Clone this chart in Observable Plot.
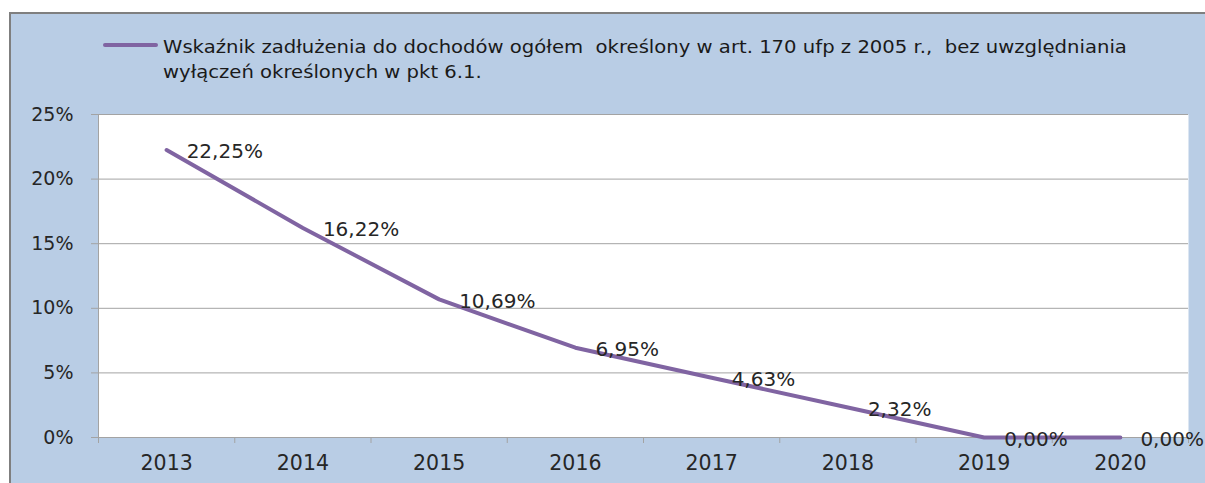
<!DOCTYPE html>
<html>
<head>
<meta charset="utf-8">
<script src="https://cdn.jsdelivr.net/npm/d3@7"></script>
<script src="https://cdn.jsdelivr.net/npm/@observablehq/plot@0.6"></script>
<style>
  html, body { margin: 0; padding: 0; background: #ffffff; }
  #page { position: relative; width: 1205px; height: 483px; overflow: hidden; font-family: "DejaVu Sans", sans-serif; color: #1a1a1a; }
  #bg { position: absolute; left: 9px; top: 12px; right: 0; bottom: 0; background: #b9cde5; border-top: 2px solid #7f7f7f; border-left: 2px solid #7f7f7f; }
  #swatch { position: absolute; left: 103px; top: 43px; width: 55px; height: 4px; background: #8064a2; border-radius: 2px; }
  #legendText { position: absolute; left: 163px; top: 34px; font-size: 18px; line-height: 25px; white-space: pre; transform: scaleX(1.09); transform-origin: left top; }
  #chart { position: absolute; left: 0; top: 97px; }
</style>
</head>
<body>
<div id="page">
  <div id="bg"></div>
  <div id="swatch"></div>
  <div id="legendText"></div>
  <div id="chart"></div>
</div>
<script>
const seriesName = "Wskaźnik zadłużenia do dochodów ogółem  określony w art. 170 ufp z 2005 r.,  bez uwzględniania\nwyłączeń określonych w pkt 6.1.";
const years = [2013, 2014, 2015, 2016, 2017, 2018, 2019, 2020];
const values = [22.25, 16.22, 10.69, 6.95, 4.63, 2.32, 0.00, 0.00];
const yTicks = [0, 5, 10, 15, 20, 25];

document.getElementById("legendText").textContent = seriesName;

const data = years.map((year, i) => ({year, value: values[i]}));
const boundaries = [...years.map(y => y - 0.5), years[years.length - 1] + 0.5];
const fmt = v => v.toFixed(2).replace(".", ",") + "%";
const gray = "#a3a3a3";
const lineColor = "#8064a2";

const chart = Plot.plot({
  width: 1205,
  height: 386,
  marginLeft: 98,
  marginRight: 17,
  marginTop: 17,
  marginBottom: 46,
  x: {type: "linear", domain: [boundaries[0], boundaries[boundaries.length - 1]]},
  y: {domain: [0, 25]},
  style: {fontFamily: "'DejaVu Sans', sans-serif", fontSize: "19px", color: "#262626", background: "transparent"},
  marks: [
    Plot.frame({fill: "white", stroke: null}),
    Plot.gridY(yTicks, {stroke: gray, strokeOpacity: 1}),
    Plot.axisY({ticks: yTicks, tickFormat: d => d + "%", tickSize: 7, tickPadding: 18, stroke: gray, fill: "#262626", label: null, fontSize: 19}),
    Plot.ruleX([boundaries[0]], {stroke: gray}),
    Plot.ruleY([0], {stroke: gray}),
    Plot.axisX({ticks: boundaries, tickFormat: () => "", tickSize: 6, stroke: gray, label: null}),
    Plot.axisX({ticks: years, tickFormat: d => String(d), tickSize: 0, tickPadding: 18, fill: "#262626", label: null, fontSize: 20.5}),
    Plot.line(data, {x: "year", y: "value", stroke: lineColor, strokeWidth: 4}),
    Plot.text(data, {x: "year", y: "value", text: d => fmt(d.value), textAnchor: "start", dx: 20, dy: 2, fill: "#262626", fontSize: 20})
  ]
});
document.getElementById("chart").appendChild(chart);
</script>
</body>
</html>
